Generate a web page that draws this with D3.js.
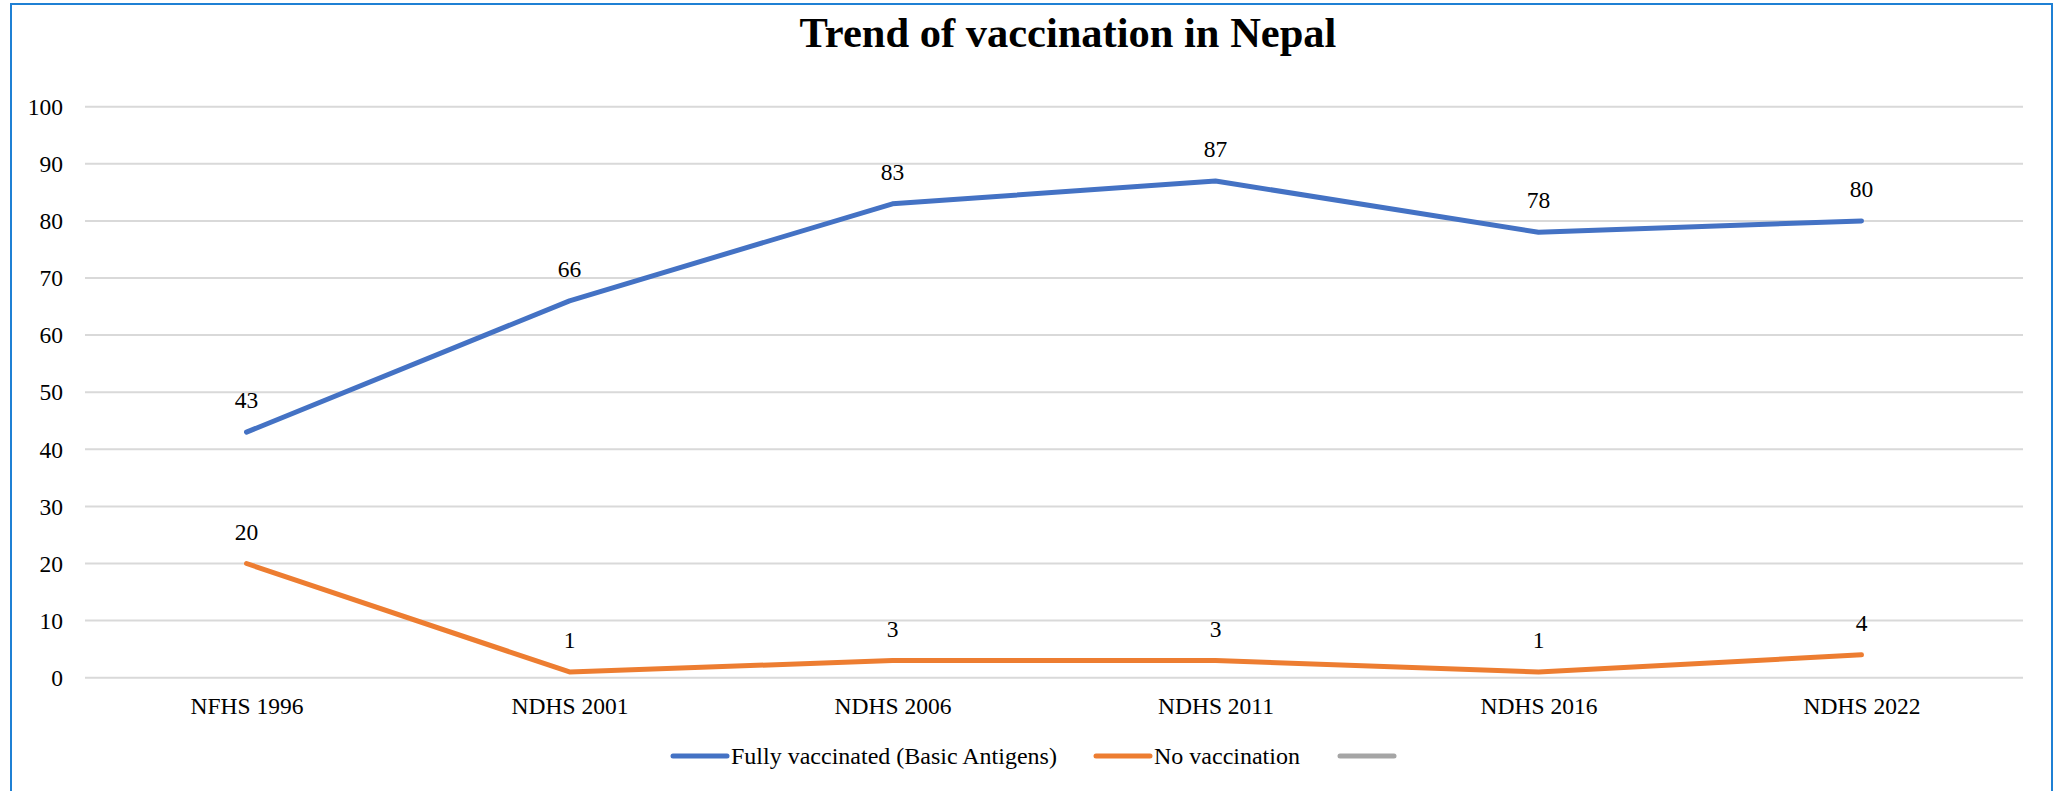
<!DOCTYPE html>
<html>
<head>
<meta charset="utf-8">
<script src="https://cdn.jsdelivr.net/npm/d3@7"></script>
<style>
  html, body { margin: 0; padding: 0; background: #fff; }
  svg { display: block; }
  text { font-family: "Liberation Serif", "Times New Roman", Times, serif; fill: #000; }
</style>
</head>
<body>
<svg id="chart" width="2055" height="791"></svg>
<script>
const categories = ["NFHS 1996", "NDHS 2001", "NDHS 2006", "NDHS 2011", "NDHS 2016", "NDHS 2022"];
const fullyVaccinated = [43, 66, 83, 87, 78, 80];
const noVaccination = [20, 1, 3, 3, 1, 4];
const yTicks = [0, 10, 20, 30, 40, 50, 60, 70, 80, 90, 100];
const seriesNames = ["Fully vaccinated (Basic Antigens)", "No vaccination", ""];
const titleText = "Trend of vaccination in Nepal";

const W = 2055, H = 791;
const FONT = '"Liberation Serif", "Times New Roman", Times, serif';
const FS = "23.5px";
const svg = d3.select("#chart");
svg.append("rect").attr("width", W).attr("height", H).attr("fill", "#fff");

// border
svg.append("rect")
  .attr("x", 11).attr("y", 4)
  .attr("width", 2052 - 11).attr("height", H + 20)
  .attr("fill", "none").attr("stroke", "#1f80d4").attr("stroke-width", 2);

const plotLeft = 85, plotRight = 2023, plotTop = 106.7, plotBottom = 677.7;
const x = d3.scalePoint().domain(categories).range([plotLeft, plotRight]).padding(0.5);
const y = d3.scaleLinear().domain([0, 100]).range([plotBottom, plotTop]);

// title
svg.append("text")
  .attr("x", 1068).attr("y", 46.5)
  .attr("text-anchor", "middle")
  .style("font-family", FONT)
  .style("font-size", "42.5px").style("font-weight", "bold")
  .text(titleText);

// gridlines
svg.append("g").selectAll("line").data(yTicks).join("line")
  .attr("x1", plotLeft).attr("x2", plotRight)
  .attr("y1", d => y(d)).attr("y2", d => y(d))
  .attr("stroke", "#d9d9d9").attr("stroke-width", 2);

// y axis labels
const yAxis = d3.axisLeft(y).tickValues(yTicks).tickSize(0).tickPadding(0);
const yg = svg.append("g").attr("transform", `translate(63,0)`).call(yAxis)
  .attr("font-family", null).attr("font-size", null);
yg.select(".domain").remove();
yg.selectAll("text").style("font-size", FS).style("font-family", FONT).attr("fill", "#000").attr("dy", "0.33em").attr("x", 0);

// x axis labels
const xAxis = d3.axisBottom(x).tickSize(0).tickPadding(0);
const xg = svg.append("g").attr("transform", `translate(0,${plotBottom})`).call(xAxis)
  .attr("font-family", null).attr("font-size", null);
xg.select(".domain").remove();
xg.selectAll("text").style("font-size", FS).style("font-family", FONT).attr("fill", "#000").attr("y", 36.5).attr("dy", 0);

const series = [
  { name: seriesNames[0], values: fullyVaccinated, color: "#4472c4" },
  { name: seriesNames[1], values: noVaccination, color: "#ed7d31" }
];

const line = d3.line().x((d, i) => x(categories[i])).y(d => y(d));

series.forEach(s => {
  svg.append("path")
    .datum(s.values)
    .attr("d", line)
    .attr("fill", "none")
    .attr("stroke", s.color)
    .attr("stroke-width", 5)
    .attr("stroke-linecap", "round")
    .attr("stroke-linejoin", "round");
  svg.append("g").selectAll("text").data(s.values).join("text")
    .attr("x", (d, i) => x(categories[i]))
    .attr("y", d => y(d) - 24)
    .attr("text-anchor", "middle")
    .style("font-family", FONT)
    .style("font-size", FS)
    .text(d => d);
});

// legend
const legendItems = [
  { name: seriesNames[0], color: "#4472c4", x1: 673 },
  { name: seriesNames[1], color: "#ed7d31", x1: 1096 },
  { name: seriesNames[2], color: "#a5a5a5", x1: 1340 }
];
const legendY = 756;
const lg = svg.append("g");
legendItems.forEach(it => {
  lg.append("line")
    .attr("x1", it.x1).attr("x2", it.x1 + 54)
    .attr("y1", legendY).attr("y2", legendY)
    .attr("stroke", it.color).attr("stroke-width", 5)
    .attr("stroke-linecap", "round");
  if (it.name) {
    lg.append("text")
      .attr("x", it.x1 + 58).attr("y", legendY + 8)
      .style("font-family", FONT)
      .style("font-size", "24px")
      .text(it.name);
  }
});
</script>
</body>
</html>
